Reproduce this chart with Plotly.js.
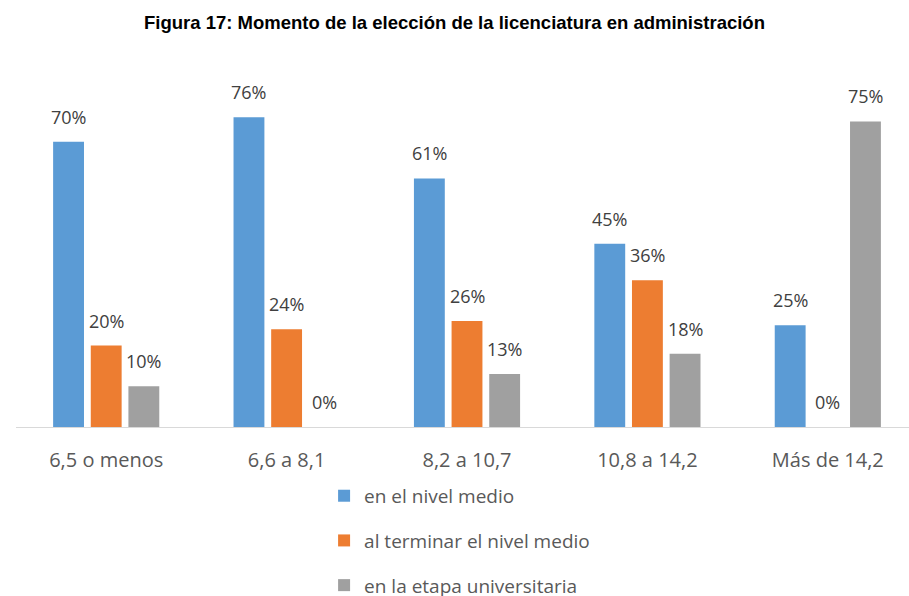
<!DOCTYPE html>
<html><head><meta charset="utf-8">
<script src="https://cdn.plot.ly/plotly-3.0.1.min.js"></script>
<style>body{margin:0;background:#fff}#chart{width:909px;height:596px}</style>
</head><body><div id="chart"></div>
<script>
var categories = ["6,5 o menos", "6,6 a 8,1", "8,2 a 10,7", "10,8 a 14,2", "Más de 14,2"];
var seriesNames = ["en el nivel medio", "al terminar el nivel medio", "en la etapa universitaria"];
var nivelMedio = [70, 76, 61, 45, 25];
var terminarMedio = [20, 24, 26, 36, 0];
var etapaUniv = [10, 0, 13, 18, 75];
var colors = ["#5B9BD5", "#ED7D31", "#A0A0A0"];
var allSeries = [nivelMedio, terminarMedio, etapaUniv];

var bargap = 0.374;
var traces = allSeries.map(function (vals, i) {
  return {
    type: "bar", x: categories, y: vals, name: seriesNames[i],
    legendgroup: "g" + i,
    marker: {color: colors[i]},
    hoverinfo: "skip"
  };
});

// data labels placed over each bar through the axes
var slot = (1 - bargap) / allSeries.length;
var annotations = [];
allSeries.forEach(function (vals, i) {
  vals.forEach(function (v, j) {
    annotations.push({
      x: j + (i - 1) * slot, y: v, xref: "x", yref: "y",
      text: v + "%", showarrow: false, yanchor: "middle", xanchor: "center", yshift: 25,
      font: {family: "Open Sans", size: 18, color: "#404040"}
    });
  });
});

var layout = {
  width: 909, height: 596,
  margin: {l: 16, r: 0, t: 101, b: 169, autoexpand: false},
  paper_bgcolor: "#fff", plot_bgcolor: "#fff",
  title: {text: "<b>Figura 17: Momento de la elección de la licenciatura en administración</b>",
          font: {family: "Liberation Sans, Arial, sans-serif", size: 18.5, color: "#000"},
          x: 0.5, xanchor: "center", y: 0.962, yanchor: "middle"},
  barmode: "group", bargap: bargap, bargroupgap: 0.18,
  showlegend: true,
  legend: {orientation: "v", x: 0.345, xanchor: "left", y: -0.153, yanchor: "top",
           traceorder: "grouped", tracegroupgap: 17,
           font: {family: "Open Sans", size: 19, color: "#595959"}},
  annotations: annotations,
  xaxis: {range: [-0.5, 4.45], showgrid: false, zeroline: false, showline: true,
          linecolor: "#d9d9d9", linewidth: 1, ticks: "outside", ticklen: 15, tickcolor: "rgba(0,0,0,0)",
          tickfont: {family: "Open Sans", size: 20, color: "#595959"}},
  yaxis: {range: [0, 80], visible: false, showgrid: false, zeroline: false},
  font: {family: "Open Sans"}
};
Plotly.newPlot("chart", traces, layout, {displayModeBar: false, staticPlot: true});
</script></body></html>
